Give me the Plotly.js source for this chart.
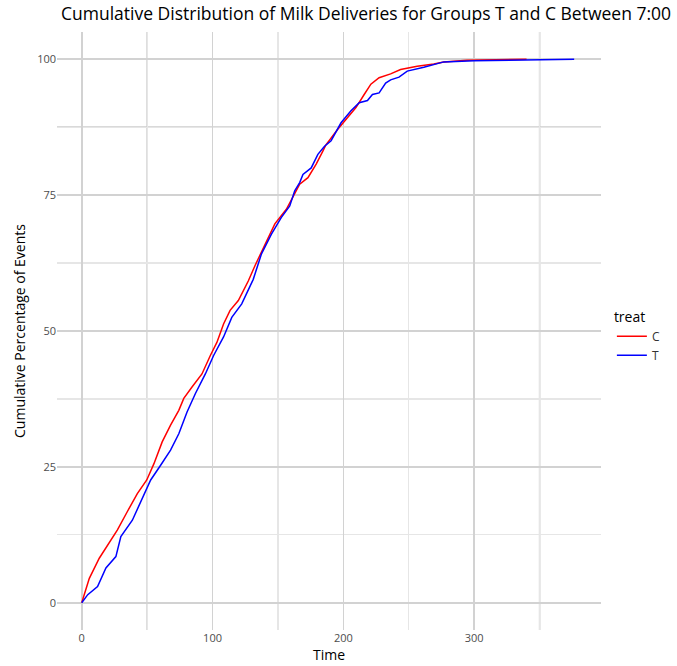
<!DOCTYPE html>
<html>
<head>
<meta charset="utf-8">
<script src="https://cdn.plot.ly/plotly-3.0.1.min.js"></script>
<style>html,body{margin:0;padding:0;background:#fff;}#chart{width:677px;height:666px;}</style>
</head>
<body>
<div id="chart"></div>
<script>
const timeC = [0, 5.8, 13.4, 19.7, 27.3, 34.9, 42.5, 49.7, 55.2, 61.5, 67.9, 74.2, 78.0, 84.3, 91.9, 98.3, 103.3, 108.4, 113.4, 119.7, 127.3, 132.4, 140.0, 147.6, 156.4, 162.8, 166.6, 172.9, 179.2, 184.3, 186.8, 195.7, 203.3, 209.6, 215.9, 221.0, 227.3, 236.1, 243.7, 256.4, 269.1, 276.7, 294.4, 340];
const pctC = [0, 4.5, 8.2, 10.6, 13.4, 16.8, 20.1, 22.6, 25.6, 29.6, 32.7, 35.4, 37.6, 39.7, 42.1, 45.5, 47.9, 51.3, 53.8, 55.6, 59.2, 62.0, 66.0, 69.7, 72.4, 75.2, 77.0, 78.2, 80.7, 83.1, 84.3, 87.1, 89.2, 91.1, 93.5, 95.4, 96.6, 97.3, 98.1, 98.7, 99.1, 99.5, 99.8, 100];
const timeT = [0, 4.6, 12.1, 18.5, 26.1, 29.9, 38.7, 46.3, 52.7, 60.3, 67.9, 74.2, 80.5, 86.9, 94.5, 100.8, 108.4, 114.7, 122.3, 131.1, 137.4, 145.0, 152.6, 159.0, 162.8, 166.6, 169.1, 175.4, 180.5, 185.6, 190.6, 198.2, 205.8, 212.1, 218.4, 222.2, 227.3, 232.3, 236.1, 242.5, 248.8, 261.5, 276.7, 300, 376.4];
const pctT = [0, 1.5, 3.0, 6.4, 8.5, 12.2, 15.2, 19.2, 22.6, 25.3, 28.1, 31.1, 35.1, 38.5, 42.1, 45.5, 48.9, 52.5, 55.0, 59.5, 64.2, 67.8, 70.9, 73.0, 75.8, 77.3, 78.8, 80.0, 82.5, 84.0, 85.0, 88.3, 90.5, 92.0, 92.4, 93.5, 93.8, 95.6, 96.2, 96.7, 97.8, 98.5, 99.5, 99.7, 100];
const groups = ["C", "T"];
const xTicks = [0, 100, 200, 300];
const yTicks = [0, 25, 50, 75, 100];
const titleText = 'Cumulative Distribution of Milk Deliveries for Groups T and C Between 7:00';

const darkX = [50, 350];
const darkY = [37.5, 62.5, 87.5];
const shapes = [];
darkX.forEach(v => shapes.push({type:'line', xref:'x', yref:'paper', x0:v, x1:v, y0:0, y1:1, layer:'below', line:{color:'#cdcdcd', width:1.6}}));
darkY.forEach(v => shapes.push({type:'line', xref:'paper', yref:'y', x0:0, x1:1, y0:v, y1:v, layer:'below', line:{color:'#cdcdcd', width:1.6}}));

const traces = [
  {x: timeC, y: pctC, name: groups[0], type: 'scatter', mode: 'lines', line: {color: '#ff0000', width: 1.5}},
  {x: timeT, y: pctT, name: groups[1], type: 'scatter', mode: 'lines', line: {color: '#0000ff', width: 1.5}}
];

const layout = {
  width: 677, height: 666,
  margin: {l: 57, r: 72, t: 32, b: 36},
  paper_bgcolor: '#fff', plot_bgcolor: '#fff',
  font: {family: 'Open Sans, Noto Sans, sans-serif', color: '#4d4d4d'},
  annotations: [{
    text: titleText, xref: 'paper', yref: 'paper', x: 0.0036, xanchor: 'left',
    y: 1, yshift: 5, yanchor: 'bottom', showarrow: false,
    font: {size: 17.5, color: '#000'}
  }],
  showlegend: true,
  legend: {x: 1.02, xanchor: 'left', y: 0.49, yanchor: 'middle', title: {text: 'treat', font: {size: 14, color: '#000'}}, font: {size: 12, color: '#333'}, itemwidth: 30},
  xaxis: {
    range: [-18.9, 396.9], tickvals: xTicks, ticktext: xTicks.map(String),
    showgrid: true, gridcolor: '#d2d2d2', gridwidth: 1.6,
    minor: {dtick: 50, tick0: 0, showgrid: true, gridcolor: '#e6e6e6', gridwidth: 1.2},
    zeroline: false, showline: false, ticks: '', tickfont: {size: 11, color: '#4d4d4d'},
    title: {text: 'Time', font: {size: 14, color: '#000'}, standoff: 5}
  },
  yaxis: {
    range: [-5, 105], tickvals: yTicks, ticktext: yTicks.map(String),
    showgrid: true, gridcolor: '#d2d2d2', gridwidth: 1.6,
    minor: {dtick: 12.5, tick0: 0, showgrid: true, gridcolor: '#e6e6e6', gridwidth: 1.2},
    zeroline: false, showline: false, ticks: '', tickfont: {size: 11, color: '#4d4d4d'},
    title: {text: 'Cumulative Percentage of Events', font: {size: 14, color: '#000'}, standoff: 8}
  },
  shapes: shapes
};

Plotly.newPlot('chart', traces, layout, {displayModeBar: false, staticPlot: true});
</script>
</body>
</html>
